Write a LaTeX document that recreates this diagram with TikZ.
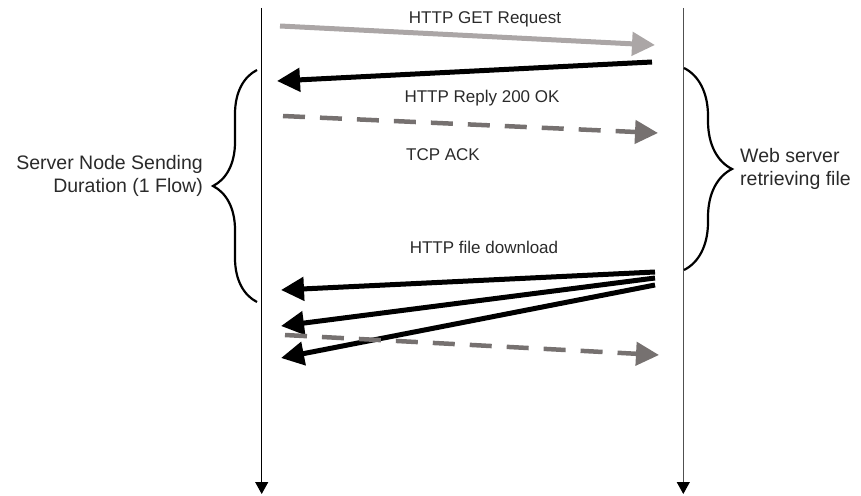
\documentclass[tikz,border=0pt]{standalone}
\usepackage{fontspec}
\setmainfont{Liberation Sans}
\usetikzlibrary{arrows.meta,decorations.pathreplacing}

\definecolor{reqgray}{HTML}{ABA6A6}
\definecolor{ackgray}{HTML}{767170}
\definecolor{txtgray}{HTML}{2A2A2A}
\definecolor{linegray}{HTML}{505050}

\tikzset{
  lifeline/.style={line width=1.1pt, -{Triangle[length=12pt,width=13pt,color=black]}},
  msgsolid/.style={line width=5pt, -{Triangle[length=23pt,width=23pt]}},
  msgreq/.style={msgsolid, draw=reqgray},
  msgdata/.style={msgsolid, draw=black},
  msgack/.style={line width=4.5pt, draw=ackgray, dash pattern=on 22pt off 15pt,
                 -{Triangle[length=23pt,width=23pt]}},
  msglabel/.style={text=txtgray, font=\fontsize{17}{20}\selectfont, inner sep=0pt},
  bracelabel/.style={text=txtgray, font=\fontsize{19.5}{23}\selectfont, inner sep=0pt},
  spanbrace/.style={line width=2.2pt, draw=black, decorate,
                    decoration={brace, amplitude=#1}},
}

\begin{document}
\begin{tikzpicture}[x=1pt,y=-1pt]
  \useasboundingbox (0,0) rectangle (861,495);

  % lifelines: client (left) and web server (right)
  \coordinate (clientTop) at (261.7,8);
  \coordinate (clientEnd) at (261.7,494);
  \coordinate (serverTop) at (683.3,8);
  \coordinate (serverEnd) at (683.3,494);
  \draw[lifeline, draw=black] (clientTop) -- (clientEnd);
  \draw[lifeline, draw=linegray] (serverTop) -- (serverEnd);

  % request
  \coordinate (getFrom) at (280,26);
  \coordinate (getTo)   at (655,45);
  \draw[msgreq] (getFrom) -- (getTo);
  \node[msglabel] (getLbl) at (485,19) {HTTP GET Request};

  % reply
  \coordinate (replyFrom) at (652,62);
  \coordinate (replyTo)   at (277,81);
  \draw[msgdata] (replyFrom) -- (replyTo);
  \node[msglabel] (replyLbl) at (482,98) {HTTP Reply 200 OK};

  % acknowledgement
  \coordinate (ackFrom) at (283,116);
  \coordinate (ackTo)   at (658,133);
  \draw[msgack] (ackFrom) -- (ackTo);
  \node[msglabel] (ackLbl) at (443,155) {TCP ACK};

  % file download segments
  \node[msglabel] (dlLbl) at (484,247) {HTTP file download};
  \coordinate (dlFromA) at (655,272);
  \coordinate (dlFromB) at (655,278);
  \coordinate (dlFromC) at (655,285);
  \coordinate (dlToA) at (281,290);
  \coordinate (dlToB) at (281,326);
  \coordinate (dlToC) at (281,358);
  \draw[msgdata] (dlFromA) -- (dlToA);
  \draw[msgdata] (dlFromB) -- (dlToB);
  \draw[msgdata] (dlFromC) -- (dlToC);

  % second acknowledgement
  \coordinate (ack2From) at (285,335);
  \coordinate (ack2To)   at (659,355);
  \draw[msgack] (ack2From) -- (ack2To);

  % sending duration on the client side
  \coordinate (sendBot) at (257,302);
  \coordinate (sendTop) at (257,70);
  \draw[spanbrace=44pt] (sendBot) -- (sendTop);
  \node[bracelabel, anchor=east, align=right] (sendLbl) at (203,176)
    {Server Node Sending\\Duration (1 Flow)};

  % retrieval time on the server side
  \coordinate (fetchTop) at (684,68);
  \coordinate (fetchBot) at (684,270);
  \draw[spanbrace=48pt] (fetchTop) -- (fetchBot);
  \node[bracelabel, anchor=west, align=left] (fetchLbl) at (740,169)
    {Web server\\retrieving file};
\end{tikzpicture}
\end{document}
